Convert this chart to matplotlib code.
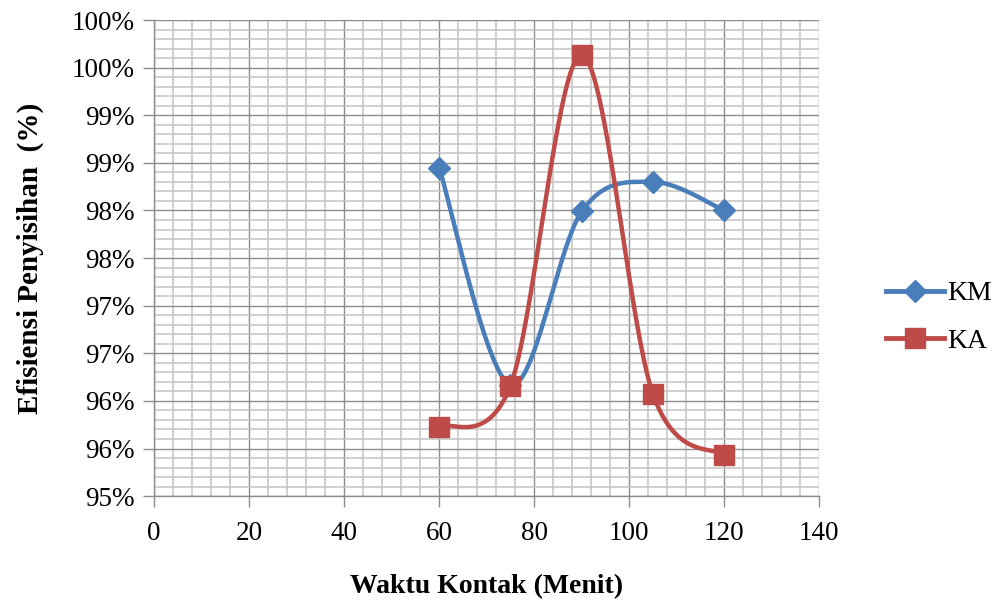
import numpy as np
import matplotlib
matplotlib.use("Agg")
import matplotlib.pyplot as plt
from matplotlib.ticker import MultipleLocator, FixedLocator

# data
waktu = [60, 75, 90, 105, 120]
km = [0.9845, 0.9617, 0.9799, 0.9830, 0.9800]
ka = [0.9573, 0.9616, 0.9963, 0.9607, 0.9543]
y_ticks = [0.95, 0.955, 0.96, 0.965, 0.97, 0.975, 0.98, 0.985, 0.99, 0.995, 1.00]
y_labels = ["95%", "96%", "96%", "97%", "97%", "98%", "98%", "99%", "99%", "100%", "100%"]

plt.rcParams["font.family"] = ["Liberation Serif", "DejaVu Serif"]

fig = plt.figure(figsize=(10.02, 6.08), dpi=100)
ax = fig.add_axes([0.1537, 0.184, 0.664, 0.783])
ax.set_xlim(0, 140)
ax.set_ylim(0.95, 1.00)


def smooth(xs, ys, n=40):
    # excel-like smoothed line: bezier with control points at 1/6 of neighbour difference,
    # computed in (approximate) pixel space
    sx, sy = 665 / 140.0, 476 / 0.05
    p = np.column_stack([np.array(xs) * sx, np.array(ys) * sy])
    pts = np.vstack([p[0], p, p[-1]])
    out = []
    t = np.linspace(0, 1, n)[:, None]
    for i in range(1, len(pts) - 2):
        p0, p1, p2, p3 = pts[i - 1], pts[i], pts[i + 1], pts[i + 2]
        c1 = p1 + (p2 - p0) / 6
        c2 = p2 - (p3 - p1) / 6
        seg = ((1 - t) ** 3) * p1 + 3 * ((1 - t) ** 2) * t * c1 + 3 * (1 - t) * t ** 2 * c2 + t ** 3 * p2
        out.append(seg)
    out = np.vstack(out)
    return out[:, 0] / sx, out[:, 1] / sy


blue = "#4a7ebb"
red = "#be4b48"

bx, by = smooth(waktu, km)
rx, ry = smooth(waktu, ka)
ax.plot(bx, by, color=blue, lw=3.2, zorder=3)
ax.plot(rx, ry, color=red, lw=3.2, zorder=3)
ax.plot(waktu, km, ls="none", marker="D", ms=11, color=blue, zorder=4)
ax.plot(waktu, ka, ls="none", marker="s", ms=14, color=red, zorder=4)

# legend proxies
ax.plot([], [], color=blue, lw=3.5, marker="D", ms=11, label="KM")
ax.plot([], [], color=red, lw=3.5, marker="s", ms=14, label="KA")
leg = fig.legend(loc="center left", bbox_to_anchor=(0.884, 0.478), frameon=False,
                 fontsize=20, handlelength=2.1, labelspacing=0.8, handletextpad=0.1,
                 borderaxespad=0, borderpad=0)

ax.xaxis.set_major_locator(MultipleLocator(20))
ax.xaxis.set_minor_locator(MultipleLocator(4))
ax.yaxis.set_major_locator(FixedLocator(y_ticks))
ax.yaxis.set_minor_locator(MultipleLocator(0.001))
ax.set_yticklabels(y_labels)

ax.grid(which="major", color="#8c8c8c", lw=1.0)
ax.grid(which="minor", color="#c4c4c4", lw=1.1)
ax.set_axisbelow(True)

for s in ["top", "right"]:
    ax.spines[s].set_visible(False)
for s in ["left", "bottom"]:
    ax.spines[s].set_color("#8c8c8c")
    ax.spines[s].set_linewidth(1.0)

ax.tick_params(which="major", length=8, width=1, color="#8c8c8c", labelsize=19.5, pad=6)
ax.tick_params(which="minor", length=0)
ax.tick_params(axis="x", pad=10)

ax.set_xlabel("Waktu Kontak (Menit)", fontsize=20, fontweight="bold", labelpad=20)
ax.set_ylabel("Efisiensi Penyisihan  (%)", fontsize=21, fontweight="bold", labelpad=20)

fig.savefig("out.png", dpi=100)
